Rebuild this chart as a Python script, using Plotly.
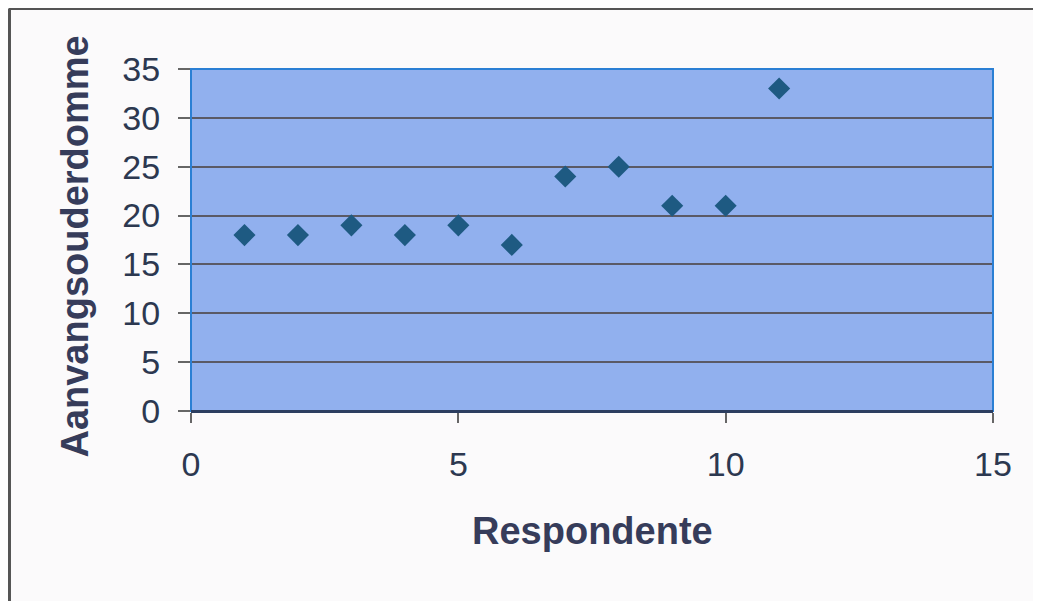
import plotly.graph_objects as go

respondents = [1, 2, 3, 4, 5, 6, 7, 8, 9, 10, 11]
ages = [18, 18, 19, 18, 19, 17, 24, 25, 21, 21, 33]
x_ticks = [0, 5, 10, 15]
y_ticks = [0, 5, 10, 15, 20, 25, 30, 35]

fig = go.Figure()
fig.add_trace(go.Scatter(
    x=respondents, y=ages, mode="markers",
    marker=dict(symbol="diamond", size=17, color="#1e5a82", line=dict(width=0)),
    showlegend=False, cliponaxis=False,
))

font_fam = "Liberation Sans, Arial, sans-serif"
title_col = "#363c5a"
fig.update_layout(
    width=1033, height=593,
    margin=dict(l=183, r=48, t=61, b=190),
    paper_bgcolor="#fbfafb",
    plot_bgcolor="#91b0ee",
    font=dict(family=font_fam, size=34, color="#2c3850"),
    xaxis=dict(
        range=[0, 15], tickvals=x_ticks, showgrid=False, zeroline=False,
        ticks="outside", ticklen=10, tickcolor="#666", tickwidth=1.5, ticklabelstandoff=12,
        showline=True, linecolor="#2c3e60", linewidth=2, mirror=False,
    ),
    yaxis=dict(
        range=[0, 35], tickvals=y_ticks, showgrid=True, gridcolor="#5a5a66", gridwidth=1.5,
        zeroline=False, ticks="outside", ticklen=12, tickcolor="#666", tickwidth=1.5,
        ticklabelstandoff=11, showline=False,
    ),
    annotations=[
        dict(text="<b>Aanvangsouderdomme</b>", xref="paper", yref="paper",
             x=-0.145, y=0.48, xanchor="center", yanchor="middle", textangle=-90,
             showarrow=False, font=dict(size=38, color=title_col)),
        dict(text="<b>Respondente</b>", xref="paper", yref="paper",
             x=0.5, y=-0.351, xanchor="center", yanchor="middle",
             showarrow=False, font=dict(size=38, color=title_col)),
    ],
    shapes=[
        dict(type="rect", xref="paper", yref="paper", x0=0, x1=1, y0=0, y1=1,
             line=dict(color="#2a7fd4", width=2), fillcolor="rgba(0,0,0,0)", layer="above"),
        dict(type="line", xref="paper", yref="paper", x0=0, x1=1, y0=0, y1=0,
             line=dict(color="#2c3e60", width=2), layer="above"),
        dict(type="line", xref="paper", yref="paper",
             x0=(1 - 183) / 802, x1=(1028 - 183) / 802, y0=(403 - 0.5) / 342, y1=(403 - 0.5) / 342,
             line=dict(color="#555", width=3)),
        dict(type="line", xref="paper", yref="paper",
             x0=(1.5 - 183) / 802, x1=(1.5 - 183) / 802, y0=(403 - 593) / 342, y1=(403 - 0.5) / 342,
             line=dict(color="#555", width=3)),
    ],
)

fig.write_html("out.html")
